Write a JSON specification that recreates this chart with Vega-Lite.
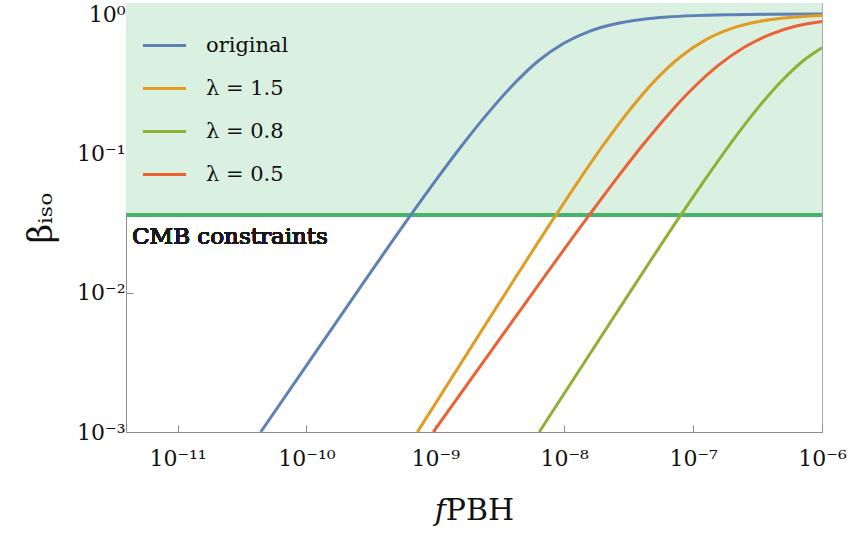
{
  "$schema": "https://vega.github.io/schema/vega-lite/v6.json",
  "width": 696,
  "height": 429,
  "autosize": "none",
  "padding": {"left": 126, "top": 3, "right": 27, "bottom": 107},
  "background": "white",
  "config": {
    "view": {"stroke": "#a8a8a8", "strokeWidth": 1},
    "font": "DejaVu Serif"
  },
  "data": {
    "values": [
      {"s": "original", "f": 4.416e-11, "b": 0.001},
      {"s": "original", "f": 2.512e-10, "b": 0.01036},
      {"s": "original", "f": 6.457e-10, "b": 0.03614},
      {"s": "original", "f": 1e-9, "b": 0.0634},
      {"s": "original", "f": 1.585e-9, "b": 0.112},
      {"s": "original", "f": 2.512e-9, "b": 0.1905},
      {"s": "original", "f": 3.981e-9, "b": 0.308},
      {"s": "original", "f": 6.31e-9, "b": 0.462},
      {"s": "original", "f": 1e-8, "b": 0.62},
      {"s": "original", "f": 1.585e-8, "b": 0.755},
      {"s": "original", "f": 2.512e-8, "b": 0.852},
      {"s": "original", "f": 3.981e-8, "b": 0.914},
      {"s": "original", "f": 6.31e-8, "b": 0.952},
      {"s": "original", "f": 1e-7, "b": 0.974},
      {"s": "original", "f": 1.995e-7, "b": 0.989},
      {"s": "original", "f": 3.981e-7, "b": 0.9955},
      {"s": "original", "f": 1e-6, "b": 0.9987},
      {"s": "λ = 1.5", "f": 7.261e-10, "b": 0.001},
      {"s": "λ = 1.5", "f": 2.512e-9, "b": 0.00612},
      {"s": "λ = 1.5", "f": 8.63e-9, "b": 0.03614},
      {"s": "λ = 1.5", "f": 1.259e-8, "b": 0.0612},
      {"s": "λ = 1.5", "f": 1.995e-8, "b": 0.1134},
      {"s": "λ = 1.5", "f": 3.162e-8, "b": 0.2007},
      {"s": "λ = 1.5", "f": 5.012e-8, "b": 0.3301},
      {"s": "λ = 1.5", "f": 7.943e-8, "b": 0.4916},
      {"s": "λ = 1.5", "f": 1.259e-7, "b": 0.655},
      {"s": "λ = 1.5", "f": 1.995e-7, "b": 0.7883},
      {"s": "λ = 1.5", "f": 3.162e-7, "b": 0.8797},
      {"s": "λ = 1.5", "f": 5.012e-7, "b": 0.9348},
      {"s": "λ = 1.5", "f": 7.079e-7, "b": 0.9596},
      {"s": "λ = 1.5", "f": 1e-6, "b": 0.9753},
      {"s": "λ = 0.8", "f": 6.397e-9, "b": 0.001},
      {"s": "λ = 0.8", "f": 2.512e-8, "b": 0.00703},
      {"s": "λ = 0.8", "f": 8.035e-8, "b": 0.03614},
      {"s": "λ = 0.8", "f": 1.259e-7, "b": 0.0665},
      {"s": "λ = 0.8", "f": 1.995e-7, "b": 0.1211},
      {"s": "λ = 0.8", "f": 3.162e-7, "b": 0.2104},
      {"s": "λ = 0.8", "f": 5.012e-7, "b": 0.3401},
      {"s": "λ = 0.8", "f": 7.079e-7, "b": 0.4581},
      {"s": "λ = 0.8", "f": 1e-6, "b": 0.572},
      {"s": "λ = 0.5", "f": 9.638e-10, "b": 0.001},
      {"s": "λ = 0.5", "f": 3.981e-9, "b": 0.00628},
      {"s": "λ = 0.5", "f": 1.567e-8, "b": 0.03614},
      {"s": "λ = 0.5", "f": 2.512e-8, "b": 0.0648},
      {"s": "λ = 0.5", "f": 3.981e-8, "b": 0.1119},
      {"s": "λ = 0.5", "f": 6.31e-8, "b": 0.1865},
      {"s": "λ = 0.5", "f": 1e-7, "b": 0.2944},
      {"s": "λ = 0.5", "f": 1.585e-7, "b": 0.4316},
      {"s": "λ = 0.5", "f": 2.512e-7, "b": 0.58},
      {"s": "λ = 0.5", "f": 3.981e-7, "b": 0.7155},
      {"s": "λ = 0.5", "f": 6.31e-7, "b": 0.8206},
      {"s": "λ = 0.5", "f": 1e-6, "b": 0.885}
    ]
  },
  "layer": [
    {
      "mark": {"type": "rect", "color": "#daf0e0"},
      "encoding": {
        "y": {"datum": 0.03614, "type": "quantitative"},
        "y2": {"datum": 1.2}
      }
    },
    {
      "mark": {"type": "rule", "color": "#46b46a", "strokeWidth": 3},
      "encoding": {
        "y": {"datum": 0.03614, "type": "quantitative"}
      }
    },
    {
      "mark": {"type": "text", "align": "left", "baseline": "top", "dy": 11, "fontSize": 23, "font": "DejaVu Serif", "fill": "#1a1a1a"},
      "encoding": {
        "x": {"datum": 4.43e-12, "type": "quantitative"},
        "y": {"datum": 0.03614, "type": "quantitative"},
        "text": {"value": "CMB constraints"}
      }
    },
    {
      "mark": {"type": "line", "interpolate": "monotone", "strokeWidth": 3, "clip": true},
      "encoding": {
        "x": {
          "field": "f",
          "type": "quantitative",
          "scale": {"type": "log", "domain": [3.98e-12, 1e-6], "nice": false},
          "axis": {
            "values": [1e-11, 1e-10, 1e-9, 1e-8, 1e-7, 1e-6],
            "labelExpr": "datum.value < 5e-11 ? '10⁻¹¹' : datum.value < 5e-10 ? '10⁻¹⁰' : datum.value < 5e-9 ? '10⁻⁹' : datum.value < 5e-8 ? '10⁻⁸' : datum.value < 5e-7 ? '10⁻⁷' : '10⁻⁶'",
            "labelFont": "DejaVu Serif",
            "labelFontSize": 22,
            "labelColor": "#111",
            "labelPadding": 23,
            "labelFlush": false,
            "labelOverlap": false,
            "tickSize": -7,
            "tickColor": "#8c8c8c",
            "domainColor": "#8c8c8c",
            "grid": false,
            "title": "𝑓PBH",
            "titleFont": "DejaVu Serif",
            "titleFontSize": 30,
            "titleFontWeight": "normal",
            "titleColor": "#111",
            "titlePadding": 26
          }
        },
        "y": {
          "field": "b",
          "type": "quantitative",
          "scale": {"type": "log", "domain": [0.001, 1.2], "nice": false},
          "axis": {
            "values": [0.001, 0.01, 0.1, 1],
            "labelExpr": "datum.value < 0.005 ? '10⁻³' : datum.value < 0.05 ? '10⁻²' : datum.value < 0.5 ? '10⁻¹' : '10⁰'",
            "labelFont": "DejaVu Serif",
            "labelFontSize": 22,
            "labelColor": "#111",
            "labelPadding": 8,
            "labelFlush": false,
            "labelOverlap": false,
            "tickSize": -7,
            "tickColor": "#8c8c8c",
            "domainColor": "#8c8c8c",
            "grid": false,
            "title": "βᵢₛₒ",
            "titleFont": "DejaVu Serif",
            "titleFontSize": 34,
            "titleFontWeight": "normal",
            "titleColor": "#111",
            "titlePadding": 18
          }
        },
        "color": {
          "field": "s",
          "type": "nominal",
          "scale": {
            "domain": ["original", "λ = 1.5", "λ = 0.8", "λ = 0.5"],
            "range": ["#5e81b5", "#e19c24", "#8fb032", "#eb6235"]
          },
          "legend": {
            "orient": "none",
            "legendX": 15,
            "legendY": 19,
            "title": null,
            "symbolType": "stroke",
            "symbolSize": 1850,
            "symbolStrokeWidth": 3,
            "labelFont": "DejaVu Serif",
            "labelFontSize": 21,
            "labelColor": "#111",
            "labelOffset": 18,
            "rowPadding": 9,
            "padding": 0
          }
        }
      }
    }
  ]
}
